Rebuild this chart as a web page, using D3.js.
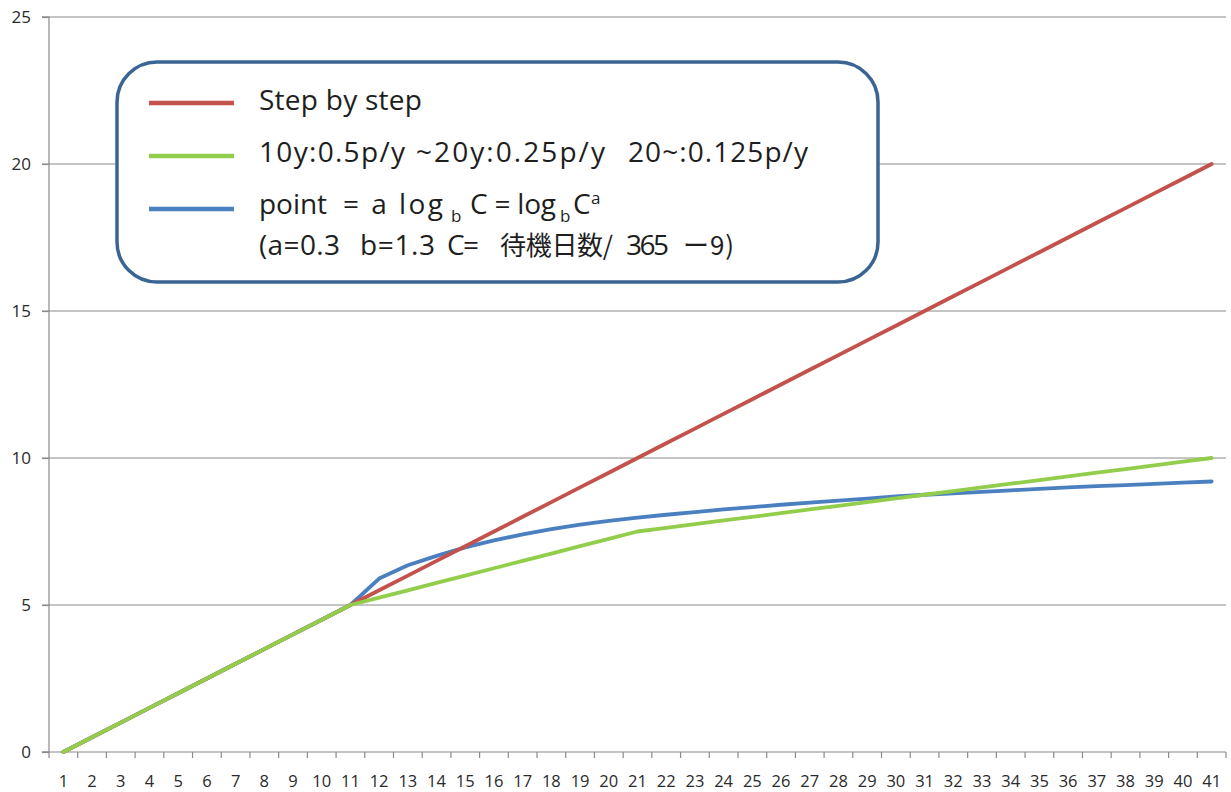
<!DOCTYPE html>
<html><head><meta charset="utf-8">
<script src="https://cdn.jsdelivr.net/npm/d3@7/dist/d3.min.js"></script>
<style>body{margin:0;background:#fff}</style>
</head><body>
<svg id="c" width="1231" height="792"></svg>
<script>
const categories = [1,2,3,4,5,6,7,8,9,10,11,12,13,14,15,16,17,18,19,20,21,22,23,24,25,26,27,28,29,30,31,32,33,34,35,36,37,38,39,40,41];
const stepByStep = [0,0.5,1,1.5,2,2.5,3,3.5,4,4.5,5,5.5,6,6.5,7,7.5,8,8.5,9,9.5,10,10.5,11,11.5,12,12.5,13,13.5,14,14.5,15,15.5,16,16.5,17,17.5,18,18.5,19,19.5,20];
const tiered = [0,0.5,1,1.5,2,2.5,3,3.5,4,4.5,5,5.25,5.5,5.75,6,6.25,6.5,6.75,7,7.25,7.5,7.625,7.75,7.875,8,8.125,8.25,8.375,8.5,8.625,8.75,8.875,9,9.125,9.25,9.375,9.5,9.625,9.75,9.875,10];
const logPoint = [0,0.5,1,1.5,2,2.5,3,3.5,4,4.5,5,5.9,6.35,6.67,6.96,7.2,7.4,7.58,7.73,7.86,7.97,8.07,8.16,8.25,8.33,8.41,8.48,8.55,8.62,8.69,8.75,8.8,8.85,8.9,8.95,9.0,9.04,9.08,9.12,9.16,9.2];
const yTicks = [0,5,10,15,20,25];
const seriesNames = ["Step by step", "10y:0.5p/y  ~20y:0.25p/y   20~:0.125p/y", "point  = a log b C = log b Ca"];

const colors = {red:"#c4524c", green:"#93cd4c", blue:"#4a7fc0"};
const svg = d3.select("#c");
const x = d3.scaleBand().domain(categories).range([49, 1226]);
const y = d3.scaleLinear().domain([0, 25]).range([752, 17]);
const cx = d => x(d) + x.bandwidth()/2;
const axisCol = "#8a8a8a";
const font = "'Open Sans', 'Noto Sans', sans-serif";

// gridlines
svg.append("g").selectAll("line").data(yTicks.filter(t=>t>0)).join("line")
  .attr("x1", 42).attr("x2", 1226).attr("y1", d=>y(d)).attr("y2", d=>y(d))
  .attr("stroke", axisCol).attr("stroke-width", 1.2);
// y axis
const ya = svg.append("g").attr("transform","translate(49,0)")
  .call(d3.axisLeft(y).tickValues(yTicks).tickSize(7).tickPadding(11));
ya.select(".domain").attr("stroke", axisCol).attr("stroke-width",1.2);
ya.selectAll(".tick line").attr("stroke", axisCol).attr("stroke-width",1.2);
ya.selectAll("text").attr("font-family", font).attr("font-size", 17).attr("fill", "#2a2a2a");
ya.select(".domain").attr("d", "M-7," + y(25) + "H0V" + y(0) + "H-7");

// x axis
const xa = svg.append("g").attr("transform","translate(0,752)");
xa.append("line").attr("x1", 42).attr("x2", 1226).attr("stroke", axisCol).attr("stroke-width",1.2);
const bounds = categories.map(d => x(d)).concat([x(categories[categories.length-1]) + x.bandwidth()]);
xa.selectAll(".tk").data(bounds).join("line").attr("class","tk")
  .attr("x1", d=>d).attr("x2", d=>d).attr("y1", 0).attr("y2", 6)
  .attr("stroke", axisCol).attr("stroke-width",1.2);
xa.selectAll("text").data(categories).join("text")
  .attr("x", d=>cx(d)).attr("y", 35).attr("text-anchor","middle")
  .attr("font-family", font).attr("font-size", 16.5).attr("fill", "#2a2a2a").text(d=>d);

// lines
const line = d3.line().x((d,i)=>cx(categories[i])).y(d=>y(d));
[[logPoint, colors.blue],[stepByStep, colors.red],[tiered, colors.green]].forEach(([vals,c])=>{
  svg.append("path").attr("d", line(vals)).attr("fill","none")
    .attr("stroke", c).attr("stroke-width", 3.8).attr("stroke-linejoin","round").attr("stroke-linecap","round");
});

// legend box
const lg = svg.append("g");
lg.append("rect").attr("x",117).attr("y",62).attr("width",761).attr("height",220)
  .attr("rx",40).attr("ry",40).attr("fill","#fff").attr("stroke","#3a6593").attr("stroke-width",3.5);
[[103, colors.red],[156, colors.green],[209, colors.blue]].forEach(([yy,c])=>{
  lg.append("line").attr("x1",149).attr("x2",234).attr("y1",yy).attr("y2",yy)
    .attr("stroke", c).attr("stroke-width", 4.5);
});
const segs = [
  {t:"Step by step", x:259, y:110, w:163},
  {t:"10y:0.5p/y", x:259, y:162, w:146},
  {t:"~20y:0.25p/y", x:416, y:162, w:189},
  {t:"20~:0.125p/y", x:628, y:162, w:180},
  {t:"point", x:259, y:214, w:68},
  {t:"= a log", x:343, y:214, w:100},
  {t:"b", x:451, y:222, w:9, s:17},
  {t:"C = log", x:470, y:214, w:86},
  {t:"b", x:560, y:222, w:9, s:17},
  {t:"C", x:573, y:214, w:16},
  {t:"a", x:591, y:204, w:9, s:17},
  {t:"(a=0.3", x:259, y:255, w:81},
  {t:"b=1.3", x:360, y:255, w:75},
  {t:"C=", x:447, y:255, w:32},
  {t:"待機日数/", x:500, y:255, w:113, cjk:true},
  {t:"365", x:626, y:255, w:43},
  {t:"ー9)", x:683, y:255, w:51, cjk:true}
];
lg.selectAll("text.seg").data(segs).join("text").attr("class","seg")
  .attr("x", d=>d.x).attr("y", d=>d.y)
  .attr("font-family", d=> d.cjk ? "'Noto Sans CJK JP', 'Open Sans', sans-serif" : font)
  .attr("font-size", d=> d.s || (d.cjk ? 26 : 28))
  .attr("fill", "#1e1e1e")
  .attr("textLength", d=>d.w).attr("lengthAdjust","spacing")
  .text(d=>d.t);
</script>
</body></html>
